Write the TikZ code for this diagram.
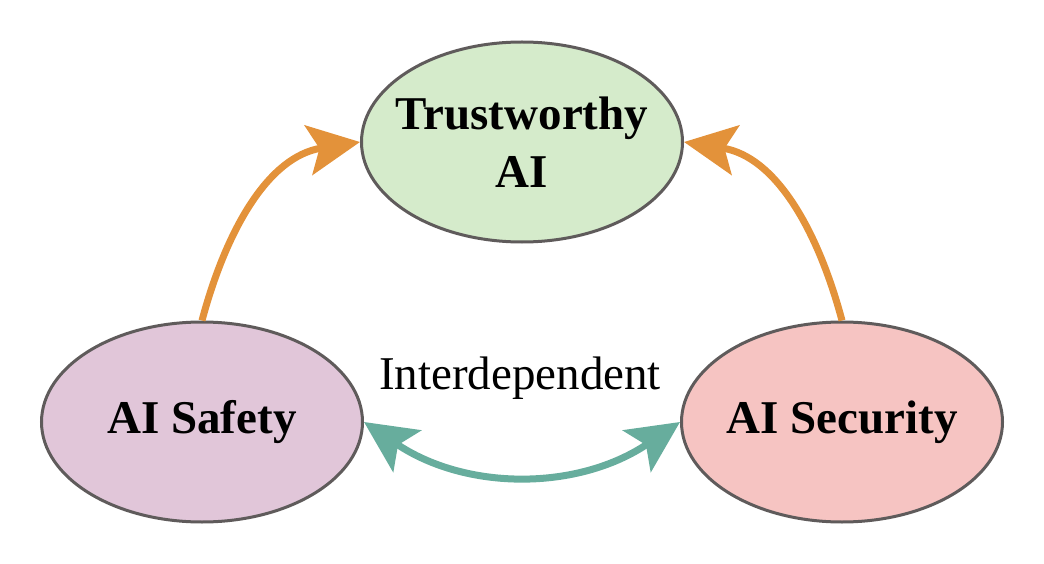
\documentclass[tikz,border=0pt]{standalone}
\usepackage{fontspec}
\setmainfont{Liberation Serif}
\usetikzlibrary{shapes.geometric,arrows.meta}
\definecolor{edgegray}{HTML}{5F5B5B}
\definecolor{topfill}{HTML}{D5EBCB}
\definecolor{leftfill}{HTML}{E1C6D9}
\definecolor{rightfill}{HTML}{F6C4C2}
\definecolor{orangeA}{HTML}{E3923A}
\definecolor{tealA}{HTML}{67AD9D}
\tikzset{
  bubble/.style={ellipse, draw=edgegray, line width=3pt, inner sep=-60pt,
    minimum width=321pt, minimum height=200pt, align=center,
    font=\fontsize{47}{58}\selectfont\bfseries},
  bubbletext/.style={align=center, inner sep=0pt, font=\fontsize{47}{58}\selectfont\bfseries},
  headtip/.tip={Stealth[length=52pt,width=50pt,inset=11pt]},
  orangearrow/.style={draw=orangeA, line width=7pt, -headtip},
  tealarrow/.style={draw=tealA, line width=7pt, headtip-headtip},
  plainlabel/.style={font=\fontsize{47}{58}\selectfont, inner sep=0pt}
}
\begin{document}
\begin{tikzpicture}[x=1pt,y=-1pt]
\useasboundingbox (0,0) rectangle (1044,564);
\node[bubble, fill=topfill] (T) at (522,142) {};
\node[bubbletext, anchor=base] (Ttext) at (522,188) {Trustworthy\\AI};
\node[bubble, fill=leftfill] (L) at (202,422) {AI Safety};
\node[bubble, fill=rightfill] (R) at (842,422) {AI Security};
\node[plainlabel] (I) at (520,378) {Interdependent};
\draw[orangearrow] (L.north) to[out=75, in=189] (T.west);
\draw[orangearrow] (R.north) to[out=105, in=-9] (T.east);
\draw[tealarrow] (L.east) to[out=-34, in=-146] (R.west);
\end{tikzpicture}
\end{document}
